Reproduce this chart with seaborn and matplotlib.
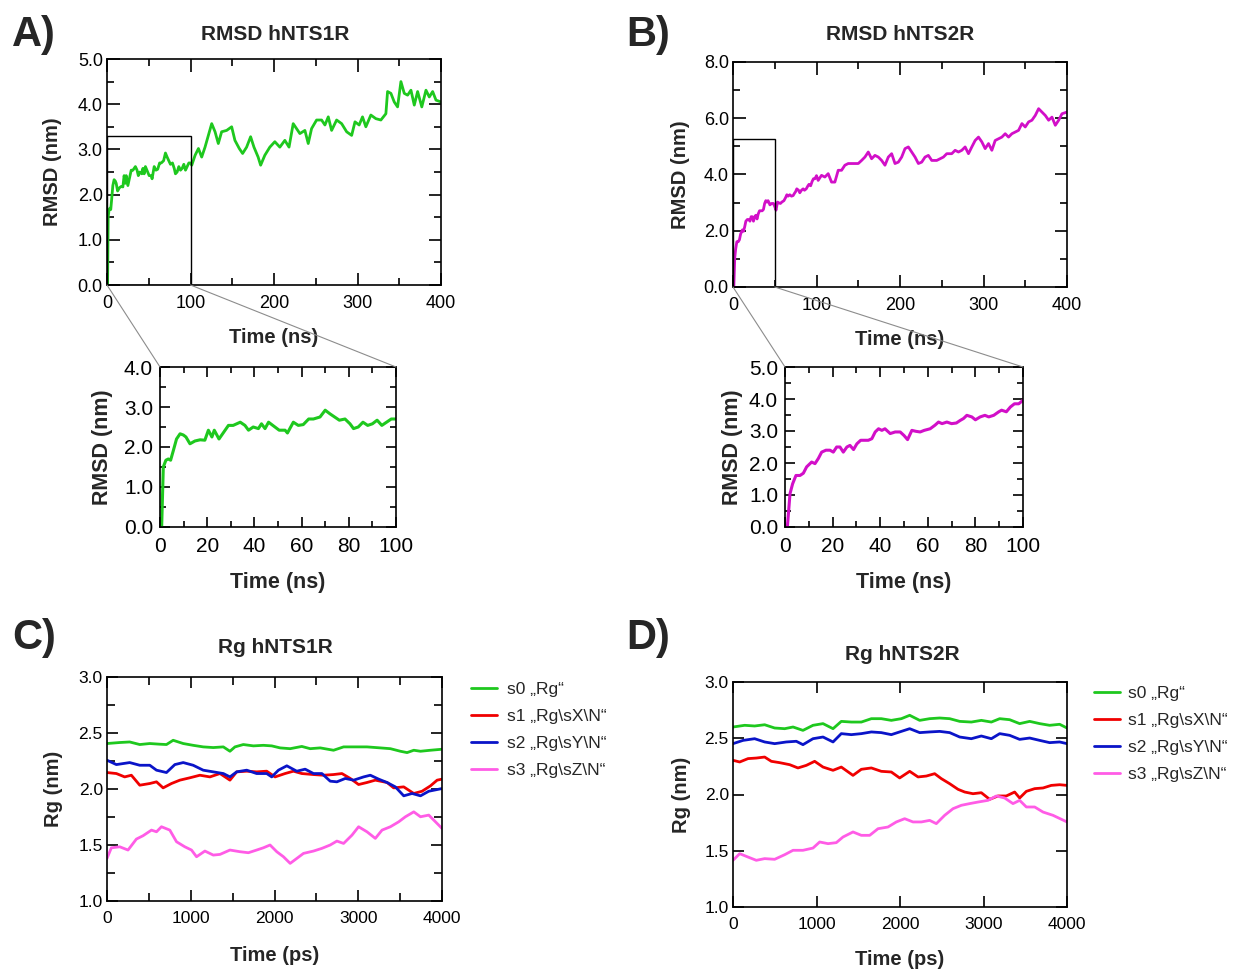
import matplotlib
matplotlib.use("Agg")
import matplotlib.pyplot as plt
import seaborn as sns
from matplotlib.ticker import MultipleLocator, FormatStrFormatter
from matplotlib.patches import Rectangle, ConnectionPatch

# ---- RMSD hNTS1R (ns, nm) ----
rmsd1_t_early = [0.7, 1.4, 2.5, 3.5, 4.5, 5.6, 7, 8.5, 9.9, 11, 12.7, 14.8, 17, 19, 20.5,
                 22, 23, 25, 27, 29, 31, 34, 36, 37.5, 39.5, 41.7, 43, 44.5, 46, 48.7,
                 50.5, 53, 54, 56.5, 58.6, 60.7, 63, 65, 67.8, 70, 72, 74, 76, 78.4, 80.5,
                 82, 84, 86, 88, 90, 92, 94, 96, 98, 100]
rmsd1_v_early = [0.0, 1.5, 1.67, 1.7, 1.67, 1.9, 2.2, 2.33, 2.3, 2.25, 2.08, 2.15, 2.18, 2.17, 2.42,
                 2.25, 2.42, 2.2, 2.37, 2.54, 2.54, 2.62, 2.54, 2.42, 2.5, 2.46, 2.58, 2.46, 2.62, 2.5,
                 2.42, 2.42, 2.35, 2.62, 2.54, 2.56, 2.7, 2.7, 2.75, 2.92, 2.83, 2.75, 2.67, 2.7, 2.58,
                 2.46, 2.5, 2.62, 2.54, 2.58, 2.67, 2.54, 2.62, 2.7, 2.7]
rmsd1_t_late = [101.5, 105.5, 109.5, 113.4, 117.4, 121.4, 125.4, 129.4, 133.3, 137.3, 143.3, 149.3,
                153.2, 158.4, 162.4, 167.2, 172, 176, 181, 184, 189, 195, 201, 207, 213, 218, 223,
                227, 231, 237, 241, 245, 251, 257, 261, 265, 269, 275, 281, 287, 293, 297, 302, 306,
                310, 316, 322, 328, 334, 336, 340, 344, 348, 352, 356, 360, 364, 368, 372, 377, 382,
                386, 390, 394, 400]
rmsd1_v_late = [2.65, 2.87, 3.02, 2.83, 3.05, 3.31, 3.57, 3.39, 3.13, 3.39, 3.42, 3.5,
                3.2, 3.02, 2.91, 3.05, 3.28, 3.05, 2.83, 2.65, 2.87, 3.05, 3.17, 3.05, 3.2, 3.05, 3.57,
                3.46, 3.35, 3.42, 3.13, 3.46, 3.65, 3.65, 3.54, 3.72, 3.42, 3.65, 3.57, 3.39, 3.31, 3.61,
                3.54, 3.72, 3.5, 3.76, 3.68, 3.65, 3.79, 4.28, 4.24, 4.05, 3.94, 4.5, 4.24, 4.2, 4.31,
                3.98, 4.28, 3.94, 4.31, 4.16, 4.28, 4.09, 4.05]

# ---- RMSD hNTS2R (ns, nm) ----
rmsd2_t_early = [1, 2.1, 3.2, 4.6, 6.3, 7.7, 9.1, 11.2, 12.6, 14, 15.4, 17.2, 18.9, 20.3, 21.7,
                 23.1, 24.5, 26, 27.3, 28.8, 30.2, 31.8, 33.7, 35, 36.5, 37.9, 39.3, 40.7, 42, 44.2,
                 46.3, 48.4, 50, 51.5, 53.3, 55, 56.8, 58.5, 61, 63, 64.5, 66, 68, 70, 72,
                 73.6, 75, 76.4, 78.5, 80, 82, 84, 85.6, 87.7, 89.8, 91, 93, 94.7, 96.4, 98.2, 100]
rmsd2_v_early = [0, 1.04, 1.35, 1.61, 1.61, 1.68, 1.88, 2.03, 1.98, 2.14, 2.34, 2.4, 2.4, 2.34, 2.5,
                 2.5, 2.34, 2.5, 2.55, 2.42, 2.6, 2.71, 2.71, 2.71, 2.76, 2.97, 3.07, 3.02, 3.07, 2.92,
                 2.97, 2.97, 2.86, 2.73, 3.02, 2.99, 2.97, 3.02, 3.07, 3.18, 3.28, 3.23, 3.28, 3.23, 3.25,
                 3.33, 3.39, 3.49, 3.44, 3.35, 3.44, 3.49, 3.44, 3.49, 3.6, 3.65, 3.6, 3.75, 3.85, 3.85, 3.96]
rmsd2_t_late = [102, 106, 110, 114, 118, 122, 126, 130, 134, 138, 144, 150, 154, 158, 162, 166, 170,
                174, 178, 182, 186, 190, 194, 198, 202, 206, 210, 214, 218, 222, 226, 230, 234, 238,
                244, 248, 252, 256, 262, 266, 270, 274, 278, 282, 286, 290, 294, 298, 302, 306, 310,
                314, 318, 322, 326, 330, 334, 338, 342, 346, 350, 354, 358, 362, 366, 370, 374, 378,
                382, 386, 390, 394, 400]
rmsd2_v_late = [3.79, 3.97, 3.91, 4.03, 3.73, 3.73, 4.15, 4.15, 4.33, 4.39, 4.39, 4.39, 4.5, 4.62, 4.8,
                4.56, 4.68, 4.62, 4.5, 4.33, 4.62, 4.74, 4.39, 4.44, 4.62, 4.92, 4.98, 4.8, 4.62, 4.39,
                4.44, 4.62, 4.68, 4.5, 4.5, 4.56, 4.62, 4.74, 4.74, 4.86, 4.8, 4.86, 4.98, 4.74, 4.98,
                5.21, 5.33, 5.16, 4.92, 5.1, 4.86, 5.21, 5.27, 5.33, 5.45, 5.33, 5.45, 5.51, 5.57, 5.81,
                5.69, 5.87, 5.93, 6.1, 6.34, 6.22, 6.1, 5.93, 6.04, 5.75, 5.93, 6.16, 6.22]

# ---- Rg hNTS1R (ps, nm) ----
rg1_s0_t = [0, 152, 271, 391, 511, 630, 710, 790, 910, 1029, 1149, 1269, 1389, 1468, 1528, 1628,
            1748, 1867, 1967, 2067, 2187, 2326, 2426, 2546, 2705, 2825, 2945, 3104, 3264, 3384,
            3503, 3583, 3663, 3743, 3862, 4000]
rg1_s0_v = [2.406, 2.415, 2.42, 2.397, 2.406, 2.40, 2.397, 2.435, 2.406, 2.39, 2.376, 2.37, 2.376,
            2.337, 2.376, 2.397, 2.385, 2.39, 2.385, 2.367, 2.36, 2.38, 2.36, 2.367, 2.346, 2.376,
            2.376, 2.376, 2.367, 2.36, 2.337, 2.325, 2.346, 2.337, 2.346, 2.355]
rg1_s1_t = [0, 112, 211, 291, 391, 511, 591, 670, 770, 870, 989, 1109, 1229, 1349, 1468, 1548, 1668,
            1787, 1907, 2007, 2126, 2226, 2326, 2466, 2585, 2705, 2805, 2905, 3004, 3104, 3204, 3344,
            3423, 3543, 3663, 3762, 3862, 3942, 4000]
rg1_s1_v = [2.147, 2.138, 2.108, 2.123, 2.034, 2.049, 2.064, 2.01, 2.049, 2.079, 2.1, 2.123, 2.108,
            2.138, 2.079, 2.153, 2.159, 2.153, 2.159, 2.108, 2.138, 2.159, 2.138, 2.129, 2.123, 2.129,
            2.138, 2.094, 2.04, 2.058, 2.079, 2.058, 2.01, 2.019, 1.96, 1.98, 2.028, 2.079, 2.088]
rg1_s2_t = [0, 112, 271, 391, 511, 591, 710, 810, 910, 1029, 1149, 1269, 1389, 1468, 1548, 1668,
            1787, 1907, 1967, 2047, 2147, 2266, 2366, 2466, 2566, 2665, 2745, 2845, 2945, 3064, 3144,
            3244, 3344, 3443, 3543, 3643, 3743, 3842, 4000]
rg1_s2_v = [2.257, 2.218, 2.236, 2.212, 2.212, 2.168, 2.147, 2.218, 2.236, 2.212, 2.168, 2.153, 2.138,
            2.108, 2.153, 2.168, 2.138, 2.138, 2.108, 2.168, 2.207, 2.159, 2.177, 2.138, 2.138, 2.07,
            2.064, 2.094, 2.079, 2.108, 2.123, 2.088, 2.058, 2.019, 1.939, 1.96, 1.939, 1.98, 2.004]
rg1_s3_t = [0, 52, 152, 251, 351, 431, 531, 591, 650, 750, 830, 929, 1009, 1069, 1169, 1269, 1349,
            1468, 1588, 1688, 1787, 1867, 1947, 2027, 2107, 2187, 2266, 2346, 2466, 2566, 2665, 2745,
            2825, 2925, 3004, 3104, 3204, 3284, 3384, 3483, 3563, 3663, 3743, 3842, 3922, 4000]
rg1_s3_v = [1.38, 1.475, 1.484, 1.455, 1.553, 1.583, 1.633, 1.618, 1.663, 1.633, 1.529, 1.484, 1.455,
            1.395, 1.446, 1.41, 1.416, 1.455, 1.44, 1.431, 1.455, 1.475, 1.5, 1.44, 1.395, 1.336, 1.38,
            1.425, 1.446, 1.47, 1.5, 1.535, 1.514, 1.588, 1.663, 1.618, 1.559, 1.633, 1.663, 1.707,
            1.752, 1.796, 1.752, 1.767, 1.707, 1.648]

# ---- Rg hNTS2R (ps, nm) ----
rg2_s0_t = [0, 140, 259, 379, 499, 619, 719, 838, 958, 1078, 1198, 1297, 1417, 1537, 1657, 1776,
            1896, 2016, 2116, 2236, 2355, 2475, 2595, 2715, 2854, 2974, 3094, 3194, 3313, 3433,
            3553, 3673, 3792, 3912, 4000]
rg2_s0_v = [2.6, 2.615, 2.609, 2.62, 2.591, 2.585, 2.6, 2.57, 2.615, 2.63, 2.585, 2.65, 2.644, 2.644,
            2.674, 2.674, 2.659, 2.674, 2.704, 2.659, 2.674, 2.68, 2.674, 2.65, 2.644, 2.659, 2.644,
            2.674, 2.665, 2.63, 2.65, 2.63, 2.615, 2.624, 2.591]
rg2_s1_t = [0, 80, 180, 279, 379, 459, 559, 679, 778, 878, 978, 1078, 1198, 1297, 1437, 1537, 1657,
            1776, 1896, 1996, 2116, 2216, 2315, 2415, 2495, 2595, 2695, 2775, 2874, 2974, 3074, 3174,
            3273, 3373, 3433, 3513, 3613, 3713, 3812, 3912, 4000]
rg2_s1_v = [2.304, 2.289, 2.319, 2.324, 2.333, 2.295, 2.283, 2.265, 2.236, 2.259, 2.295, 2.244, 2.215,
            2.244, 2.17, 2.224, 2.236, 2.206, 2.2, 2.147, 2.206, 2.156, 2.164, 2.185, 2.141, 2.096,
            2.046, 2.022, 2.007, 2.016, 1.957, 1.987, 1.987, 2.022, 1.969, 2.028, 2.052, 2.058, 2.081,
            2.087, 2.081]
rg2_s2_t = [0, 120, 259, 379, 499, 639, 758, 838, 958, 1078, 1198, 1297, 1417, 1537, 1657, 1776,
            1896, 2016, 2116, 2236, 2355, 2475, 2595, 2715, 2854, 2974, 3094, 3194, 3313, 3433,
            3553, 3673, 3792, 3912, 4000]
rg2_s2_v = [2.452, 2.481, 2.496, 2.467, 2.452, 2.467, 2.473, 2.443, 2.496, 2.511, 2.467, 2.541, 2.532,
            2.541, 2.556, 2.55, 2.532, 2.561, 2.585, 2.55, 2.556, 2.561, 2.55, 2.511, 2.496, 2.52,
            2.496, 2.541, 2.526, 2.49, 2.502, 2.481, 2.461, 2.467, 2.452]
rg2_s3_t = [0, 80, 180, 279, 379, 499, 619, 719, 838, 958, 1038, 1138, 1237, 1317, 1437, 1537, 1637,
            1737, 1856, 1956, 2056, 2156, 2256, 2355, 2435, 2535, 2635, 2735, 2834, 2934, 3054, 3154,
            3253, 3353, 3433, 3513, 3613, 3713, 3832, 4000]
rg2_s3_v = [1.415, 1.474, 1.444, 1.415, 1.43, 1.424, 1.465, 1.504, 1.504, 1.524, 1.578, 1.563, 1.572,
            1.622, 1.667, 1.637, 1.637, 1.696, 1.711, 1.756, 1.785, 1.756, 1.756, 1.77, 1.741, 1.815,
            1.874, 1.904, 1.919, 1.933, 1.948, 1.987, 1.969, 1.919, 1.948, 1.889, 1.889, 1.844, 1.815,
            1.756]

rg_labels = ['s0 \u201eRg\u201c', 's1 \u201eRg\\sX\\N\u201c',
             's2 \u201eRg\\sY\\N\u201c', 's3 \u201eRg\\sZ\\N\u201c']

GREEN, RED, BLUE, PINK, MAGENTA = '#1ec81e', '#f00000', '#0a14c8', '#ff5ce6', '#d20fc8'

sns.set_style("ticks")
plt.rcParams['font.family'] = ['Liberation Sans', 'DejaVu Sans']
plt.rcParams['axes.linewidth'] = 1.2

W, H = 1235, 969
fig = plt.figure(figsize=(W / 100, H / 100), dpi=100)


def add_ax(l, t, r, b):
    return fig.add_axes([l / W, 1 - b / H, (r - l) / W, (b - t) / H])


def style(ax, xmaj, xmin, ymaj, ymin, tsize, maj_len, min_len, xpad, ypad):
    ax.xaxis.set_major_locator(MultipleLocator(xmaj))
    ax.yaxis.set_major_locator(MultipleLocator(ymaj))
    if xmin:
        ax.xaxis.set_minor_locator(MultipleLocator(xmin))
    if ymin:
        ax.yaxis.set_minor_locator(MultipleLocator(ymin))
    ax.yaxis.set_major_formatter(FormatStrFormatter('%.1f'))
    ax.tick_params(which='both', direction='in', top=True, right=True, width=1.2, colors='black')
    ax.tick_params(which='major', length=maj_len, labelsize=tsize)
    ax.tick_params(which='minor', length=min_len)
    ax.tick_params(axis='x', pad=xpad)
    ax.tick_params(axis='y', pad=ypad)
    for s in ax.spines.values():
        s.set_color('black')
        s.set_linewidth(1.2)


def labels(ax, xl, yl, size, xy, yx):
    ax.set_xlabel(xl, fontsize=size, fontweight='bold')
    ax.set_ylabel(yl, fontsize=size, fontweight='bold')
    ax.xaxis.set_label_coords(0.5, xy)
    ax.yaxis.set_label_coords(yx, 0.5)


def px_text(x, y, s, size, ha='center'):
    fig.text(x / W, 1 - y / H, s, fontsize=size, fontweight='bold', ha=ha, va='baseline')


# ---------- A ----------
axA = add_ax(107, 59, 441, 285)
sns.lineplot(x=rmsd1_t_early + rmsd1_t_late, y=rmsd1_v_early + rmsd1_v_late, ax=axA,
             color=GREEN, linewidth=2, sort=False)
axA.set_xlim(0, 400)
axA.set_ylim(0, 5)
style(axA, 100, 50, 1.0, 0.5, 13, 9, 5, 7, 3)
labels(axA, 'Time (ns)', 'RMSD (nm)', 14.5, -0.19, -0.135)
axA.add_patch(Rectangle((0, 0), 100, 3.3, fill=False, edgecolor='black', lw=1.0, zorder=3))

axAi = add_ax(160, 367, 396, 527)
sns.lineplot(x=rmsd1_t_early, y=rmsd1_v_early, ax=axAi, color=GREEN, linewidth=2.2, sort=False)
axAi.set_xlim(0, 100)
axAi.set_ylim(0, 4)
style(axAi, 20, 10, 1.0, 0.5, 15, 7, 4, 7, 5)
labels(axAi, 'Time (ns)', 'RMSD (nm)', 15.5, -0.28, -0.2)

for xa, xb in [((0, 0), (0, 1)), ((100, 0), (1, 1))]:
    fig.add_artist(ConnectionPatch(xyA=xa, coordsA=axA.transData, xyB=xb, coordsB=axAi.transAxes,
                                   color='0.55', lw=0.8))

# ---------- B ----------
axB = add_ax(733, 62, 1067, 287)
sns.lineplot(x=rmsd2_t_early + rmsd2_t_late, y=rmsd2_v_early + rmsd2_v_late, ax=axB,
             color=MAGENTA, linewidth=2, sort=False)
axB.set_xlim(0, 400)
axB.set_ylim(0, 8)
style(axB, 100, 50, 2.0, 1.0, 13, 9, 5, 7, 3)
labels(axB, 'Time (ns)', 'RMSD (nm)', 14.5, -0.19, -0.13)
axB.add_patch(Rectangle((0, 0), 50, 5.25, fill=False, edgecolor='black', lw=1.0, zorder=3))

axBi = add_ax(785, 367, 1023, 527)
sns.lineplot(x=rmsd2_t_early, y=rmsd2_v_early, ax=axBi, color=MAGENTA, linewidth=2.2, sort=False)
axBi.set_xlim(0, 100)
axBi.set_ylim(0, 5)
style(axBi, 20, 10, 1.0, 0.5, 15, 7, 4, 7, 5)
labels(axBi, 'Time (ns)', 'RMSD (nm)', 15.5, -0.28, -0.176)

for xa, xb in [((0, 0), (0, 1)), ((50, 0), (1, 1))]:
    fig.add_artist(ConnectionPatch(xyA=xa, coordsA=axB.transData, xyB=xb, coordsB=axBi.transAxes,
                                   color='0.55', lw=0.8))

# ---------- C ----------
axC = add_ax(107, 677, 442, 901)
for t, v, c, lab in zip([rg1_s0_t, rg1_s1_t, rg1_s2_t, rg1_s3_t],
                        [rg1_s0_v, rg1_s1_v, rg1_s2_v, rg1_s3_v],
                        [GREEN, RED, BLUE, PINK], rg_labels):
    sns.lineplot(x=t, y=v, ax=axC, color=c, linewidth=2, label=lab, sort=False)
axC.set_xlim(0, 4000)
axC.set_ylim(1, 3)
style(axC, 1000, 500, 0.5, 0.25, 12.5, 8, 6, 7, 3)
labels(axC, 'Time (ps)', 'Rg (nm)', 14.5, -0.2, -0.131)
axC.legend(loc='upper left', bbox_to_anchor=(1.087, 0.978), frameon=False, fontsize=12.5,
           handlelength=1.5, handletextpad=0.55, labelspacing=0.68, borderaxespad=0, borderpad=0)

# ---------- D ----------
axD = add_ax(733, 682, 1067, 907)
for t, v, c, lab in zip([rg2_s0_t, rg2_s1_t, rg2_s2_t, rg2_s3_t],
                        [rg2_s0_v, rg2_s1_v, rg2_s2_v, rg2_s3_v],
                        [GREEN, RED, BLUE, PINK], rg_labels):
    sns.lineplot(x=t, y=v, ax=axD, color=c, linewidth=2, label=lab, sort=False)
axD.set_xlim(0, 4000)
axD.set_ylim(1, 3)
style(axD, 1000, None, 0.5, None, 12.5, 8, 0, 7, 3)
labels(axD, 'Time (ps)', 'Rg (nm)', 14.5, -0.19, -0.126)
axD.legend(loc='upper left', bbox_to_anchor=(1.08, 0.982), frameon=False, fontsize=12.5,
           handlelength=1.5, handletextpad=0.5, labelspacing=0.68, borderaxespad=0, borderpad=0)

# ---------- titles and panel letters ----------
px_text(275, 40, 'RMSD hNTS1R', 15)
px_text(900, 40, 'RMSD hNTS2R', 15)
px_text(275, 653, 'Rg hNTS1R', 15)
px_text(902, 660, 'Rg hNTS2R', 15)
px_text(12, 46, 'A)', 30, ha='left')
px_text(626, 46, 'B)', 30, ha='left')
px_text(12, 649, 'C)', 30, ha='left')
px_text(626, 649, 'D)', 30, ha='left')

fig.savefig('out.png', dpi=100)
